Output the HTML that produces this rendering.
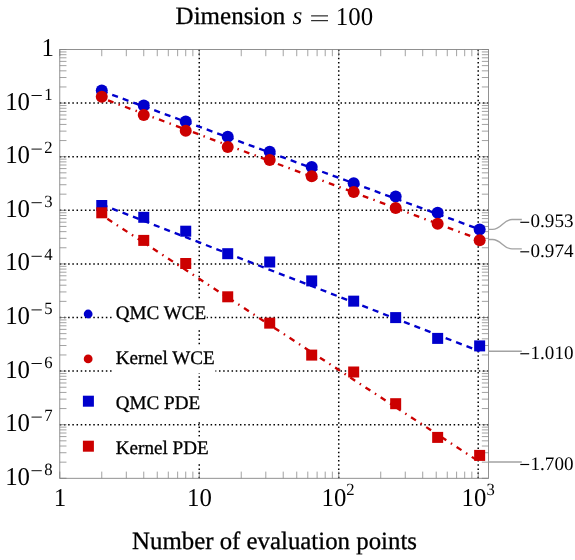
<!DOCTYPE html><html><head><meta charset="utf-8"><title>Dimension s = 100</title>
<style>html,body{margin:0;padding:0;background:#fff;}svg{display:block;will-change:transform;}text{font-family:"Liberation Serif",serif;fill:#000;text-rendering:geometricPrecision;}.b{stroke:#000;stroke-width:0.3px;}</style></head><body>
<svg width="575" height="560" viewBox="0 0 575 560">
<rect width="575" height="560" fill="#fff"/>
<g stroke="#000" stroke-width="1.5" stroke-dasharray="1.5 2.69" fill="none"><line x1="59.77" y1="103.10" x2="488.55" y2="103.10"/><line x1="59.77" y1="156.70" x2="488.55" y2="156.70"/><line x1="59.77" y1="210.30" x2="488.55" y2="210.30"/><line x1="59.77" y1="263.90" x2="488.55" y2="263.90"/><line x1="59.77" y1="317.50" x2="488.55" y2="317.50"/><line x1="59.77" y1="371.10" x2="488.55" y2="371.10"/><line x1="59.77" y1="424.70" x2="488.55" y2="424.70"/><line x1="199.25" y1="478.30" x2="199.25" y2="49.50"/><line x1="338.73" y1="478.30" x2="338.73" y2="49.50"/><line x1="478.21" y1="478.30" x2="478.21" y2="49.50"/></g>
<path d="M101.76 478.30v-6.7M101.76 49.50v6.7M126.32 478.30v-6.7M126.32 49.50v6.7M143.75 478.30v-6.7M143.75 49.50v6.7M157.26 478.30v-6.7M157.26 49.50v6.7M168.31 478.30v-6.7M168.31 49.50v6.7M177.64 478.30v-6.7M177.64 49.50v6.7M185.73 478.30v-6.7M185.73 49.50v6.7M192.87 478.30v-6.7M192.87 49.50v6.7M241.24 478.30v-6.7M241.24 49.50v6.7M265.80 478.30v-6.7M265.80 49.50v6.7M283.23 478.30v-6.7M283.23 49.50v6.7M296.74 478.30v-6.7M296.74 49.50v6.7M307.79 478.30v-6.7M307.79 49.50v6.7M317.12 478.30v-6.7M317.12 49.50v6.7M325.21 478.30v-6.7M325.21 49.50v6.7M332.35 478.30v-6.7M332.35 49.50v6.7M380.72 478.30v-6.7M380.72 49.50v6.7M405.28 478.30v-6.7M405.28 49.50v6.7M422.71 478.30v-6.7M422.71 49.50v6.7M436.22 478.30v-6.7M436.22 49.50v6.7M447.27 478.30v-6.7M447.27 49.50v6.7M456.60 478.30v-6.7M456.60 49.50v6.7M464.69 478.30v-6.7M464.69 49.50v6.7M471.83 478.30v-6.7M471.83 49.50v6.7M59.77 86.96h6.7M488.55 86.96h-6.7M59.77 77.53h6.7M488.55 77.53h-6.7M59.77 70.83h6.7M488.55 70.83h-6.7M59.77 65.64h6.7M488.55 65.64h-6.7M59.77 61.39h6.7M488.55 61.39h-6.7M59.77 57.80h6.7M488.55 57.80h-6.7M59.77 54.69h6.7M488.55 54.69h-6.7M59.77 51.95h6.7M488.55 51.95h-6.7M59.77 140.56h6.7M488.55 140.56h-6.7M59.77 131.13h6.7M488.55 131.13h-6.7M59.77 124.43h6.7M488.55 124.43h-6.7M59.77 119.24h6.7M488.55 119.24h-6.7M59.77 114.99h6.7M488.55 114.99h-6.7M59.77 111.40h6.7M488.55 111.40h-6.7M59.77 108.29h6.7M488.55 108.29h-6.7M59.77 105.55h6.7M488.55 105.55h-6.7M59.77 194.16h6.7M488.55 194.16h-6.7M59.77 184.73h6.7M488.55 184.73h-6.7M59.77 178.03h6.7M488.55 178.03h-6.7M59.77 172.84h6.7M488.55 172.84h-6.7M59.77 168.59h6.7M488.55 168.59h-6.7M59.77 165.00h6.7M488.55 165.00h-6.7M59.77 161.89h6.7M488.55 161.89h-6.7M59.77 159.15h6.7M488.55 159.15h-6.7M59.77 247.76h6.7M488.55 247.76h-6.7M59.77 238.33h6.7M488.55 238.33h-6.7M59.77 231.63h6.7M488.55 231.63h-6.7M59.77 226.44h6.7M488.55 226.44h-6.7M59.77 222.19h6.7M488.55 222.19h-6.7M59.77 218.60h6.7M488.55 218.60h-6.7M59.77 215.49h6.7M488.55 215.49h-6.7M59.77 212.75h6.7M488.55 212.75h-6.7M59.77 301.36h6.7M488.55 301.36h-6.7M59.77 291.93h6.7M488.55 291.93h-6.7M59.77 285.23h6.7M488.55 285.23h-6.7M59.77 280.04h6.7M488.55 280.04h-6.7M59.77 275.79h6.7M488.55 275.79h-6.7M59.77 272.20h6.7M488.55 272.20h-6.7M59.77 269.09h6.7M488.55 269.09h-6.7M59.77 266.35h6.7M488.55 266.35h-6.7M59.77 354.96h6.7M488.55 354.96h-6.7M59.77 345.53h6.7M488.55 345.53h-6.7M59.77 338.83h6.7M488.55 338.83h-6.7M59.77 333.64h6.7M488.55 333.64h-6.7M59.77 329.39h6.7M488.55 329.39h-6.7M59.77 325.80h6.7M488.55 325.80h-6.7M59.77 322.69h6.7M488.55 322.69h-6.7M59.77 319.95h6.7M488.55 319.95h-6.7M59.77 408.56h6.7M488.55 408.56h-6.7M59.77 399.13h6.7M488.55 399.13h-6.7M59.77 392.43h6.7M488.55 392.43h-6.7M59.77 387.24h6.7M488.55 387.24h-6.7M59.77 382.99h6.7M488.55 382.99h-6.7M59.77 379.40h6.7M488.55 379.40h-6.7M59.77 376.29h6.7M488.55 376.29h-6.7M59.77 373.55h6.7M488.55 373.55h-6.7M59.77 462.16h6.7M488.55 462.16h-6.7M59.77 452.73h6.7M488.55 452.73h-6.7M59.77 446.03h6.7M488.55 446.03h-6.7M59.77 440.84h6.7M488.55 440.84h-6.7M59.77 436.59h6.7M488.55 436.59h-6.7M59.77 433.00h6.7M488.55 433.00h-6.7M59.77 429.89h6.7M488.55 429.89h-6.7M59.77 427.15h6.7M488.55 427.15h-6.7" stroke="#8a8a8a" stroke-width="0.8" fill="none"/>
<path d="M59.77 478.30v-6.7M59.77 49.50v6.7M199.25 478.30v-6.7M199.25 49.50v6.7M338.73 478.30v-6.7M338.73 49.50v6.7M478.21 478.30v-6.7M478.21 49.50v6.7M59.77 49.50h6.7M488.55 49.50h-6.7M59.77 103.10h6.7M488.55 103.10h-6.7M59.77 156.70h6.7M488.55 156.70h-6.7M59.77 210.30h6.7M488.55 210.30h-6.7M59.77 263.90h6.7M488.55 263.90h-6.7M59.77 317.50h6.7M488.55 317.50h-6.7M59.77 371.10h6.7M488.55 371.10h-6.7M59.77 424.70h6.7M488.55 424.70h-6.7M59.77 478.30h6.7M488.55 478.30h-6.7" stroke="#707070" stroke-width="0.8" fill="none"/>
<rect x="59.77" y="49.50" width="428.78" height="428.80" fill="none" stroke="#858585" stroke-width="0.9"/>
<line x1="101.76" y1="91.01" x2="479.65" y2="229.40" stroke="#0000cc" stroke-width="2.35" stroke-dasharray="6.1 5.08" stroke-dashoffset="0.05" fill="none"/>
<g fill="#0000cc"><circle cx="101.76" cy="90.60" r="6"/><circle cx="143.75" cy="105.60" r="6"/><circle cx="185.73" cy="121.50" r="6"/><circle cx="227.72" cy="136.80" r="6"/><circle cx="269.71" cy="151.70" r="6"/><circle cx="311.70" cy="167.00" r="6"/><circle cx="353.68" cy="183.20" r="6"/><circle cx="395.67" cy="196.60" r="6"/><circle cx="437.66" cy="212.70" r="6"/><circle cx="479.65" cy="229.60" r="6"/></g>
<line x1="101.76" y1="98.06" x2="479.65" y2="239.50" stroke="#cc0000" stroke-width="2.35" stroke-dasharray="5.8 5.42 1.5 5.42" stroke-dashoffset="11.48" fill="none"/>
<g fill="#cc0000"><circle cx="101.76" cy="96.70" r="6"/><circle cx="143.75" cy="115.10" r="6"/><circle cx="185.73" cy="130.70" r="6"/><circle cx="227.72" cy="147.10" r="6"/><circle cx="269.71" cy="160.10" r="6"/><circle cx="311.70" cy="176.20" r="6"/><circle cx="353.68" cy="192.10" r="6"/><circle cx="395.67" cy="207.90" r="6"/><circle cx="437.66" cy="223.80" r="6"/><circle cx="479.65" cy="240.30" r="6"/></g>
<line x1="101.76" y1="204.58" x2="479.65" y2="351.25" stroke="#0000cc" stroke-width="2.35" stroke-dasharray="6.1 5.08" stroke-dashoffset="0.05" fill="none"/>
<g fill="#0000cc"><rect x="96.26" y="200.00" width="11.0" height="11.0"/><rect x="138.25" y="211.80" width="11.0" height="11.0"/><rect x="180.23" y="225.70" width="11.0" height="11.0"/><rect x="222.22" y="248.20" width="11.0" height="11.0"/><rect x="264.21" y="256.50" width="11.0" height="11.0"/><rect x="306.20" y="275.40" width="11.0" height="11.0"/><rect x="348.18" y="295.65" width="11.0" height="11.0"/><rect x="390.17" y="312.10" width="11.0" height="11.0"/><rect x="432.16" y="332.90" width="11.0" height="11.0"/><rect x="474.15" y="340.40" width="11.0" height="11.0"/></g>
<line x1="101.76" y1="215.13" x2="479.65" y2="462.00" stroke="#cc0000" stroke-width="2.35" stroke-dasharray="5.8 5.42 1.5 5.42" stroke-dashoffset="11.48" fill="none"/>
<g fill="#cc0000"><rect x="96.26" y="207.30" width="11.0" height="11.0"/><rect x="138.25" y="234.90" width="11.0" height="11.0"/><rect x="180.23" y="258.00" width="11.0" height="11.0"/><rect x="222.22" y="291.30" width="11.0" height="11.0"/><rect x="264.21" y="317.65" width="11.0" height="11.0"/><rect x="306.20" y="349.60" width="11.0" height="11.0"/><rect x="348.18" y="366.50" width="11.0" height="11.0"/><rect x="390.17" y="398.20" width="11.0" height="11.0"/><rect x="432.16" y="431.90" width="11.0" height="11.0"/><rect x="474.15" y="449.90" width="11.0" height="11.0"/></g>
<rect x="112.3" y="300.0" width="94.30" height="30.00" fill="#fff"/>
<rect x="112.3" y="346.8" width="103.10" height="26.20" fill="#fff"/>
<rect x="112.3" y="390.0" width="90.10" height="30.00" fill="#fff"/>
<rect x="112.3" y="436.8" width="98.10" height="26.40" fill="#fff"/>
<circle cx="88.15" cy="314.0" r="4.4" fill="#0000cc"/>
<circle cx="88.15" cy="358.9" r="4.4" fill="#cc0000"/>
<rect x="82.9" y="395.7" width="11" height="11" fill="#0000cc"/>
<rect x="82.9" y="440.7" width="11" height="11" fill="#cc0000"/>
<text class="b" x="115.8" y="319.00" font-size="19.1">QMC WCE</text>
<text class="b" x="115.8" y="364.30" font-size="19.1">Kernel WCE</text>
<text class="b" x="115.8" y="409.00" font-size="19.1">QMC PDE</text>
<text class="b" x="115.8" y="454.30" font-size="19.1">Kernel PDE</text>
<g stroke="#a2a2a2" stroke-width="1.35" fill="none">
<path d="M488.55 229.4H492.5C501.5 229.4 503 219.5 512 219.5H521.8"/>
<path d="M488.55 239.5H492.5C501.5 239.5 503 248.9 512 248.9H521.8"/>
<path d="M488.55 351.25H521.8"/>
<path d="M488.55 462.0H521.8"/>
</g>
<path d="M520.3 222.30H529.2" stroke="#000" stroke-width="1.15"/>
<text x="530.55" y="227.3" font-size="19.1">0.953</text>
<path d="M520.3 251.80H529.2" stroke="#000" stroke-width="1.15"/>
<text x="530.55" y="256.8" font-size="19.1">0.974</text>
<path d="M520.3 353.75H529.2" stroke="#000" stroke-width="1.15"/>
<text x="530.55" y="358.75" font-size="19.1">1.010</text>
<path d="M520.3 464.50H529.2" stroke="#000" stroke-width="1.15"/>
<text x="530.55" y="469.5" font-size="19.1">1.700</text>
<text transform="translate(5.20 109.60) scale(0.97 1)" font-size="25.6" text-anchor="start">10</text>
<path d="M31.5 95.50H41.8" stroke="#000" stroke-width="0.95"/>
<text transform="translate(48.30 99.60) scale(0.97 1)" font-size="17.2" text-anchor="middle">1</text>
<text transform="translate(5.20 163.20) scale(0.97 1)" font-size="25.6" text-anchor="start">10</text>
<path d="M31.5 149.10H41.8" stroke="#000" stroke-width="0.95"/>
<text transform="translate(48.30 153.20) scale(0.97 1)" font-size="17.2" text-anchor="middle">2</text>
<text transform="translate(5.20 216.80) scale(0.97 1)" font-size="25.6" text-anchor="start">10</text>
<path d="M31.5 202.70H41.8" stroke="#000" stroke-width="0.95"/>
<text transform="translate(48.30 206.80) scale(0.97 1)" font-size="17.2" text-anchor="middle">3</text>
<text transform="translate(5.20 270.40) scale(0.97 1)" font-size="25.6" text-anchor="start">10</text>
<path d="M31.5 256.30H41.8" stroke="#000" stroke-width="0.95"/>
<text transform="translate(48.30 260.40) scale(0.97 1)" font-size="17.2" text-anchor="middle">4</text>
<text transform="translate(5.20 324.00) scale(0.97 1)" font-size="25.6" text-anchor="start">10</text>
<path d="M31.5 309.90H41.8" stroke="#000" stroke-width="0.95"/>
<text transform="translate(48.30 314.00) scale(0.97 1)" font-size="17.2" text-anchor="middle">5</text>
<text transform="translate(5.20 377.60) scale(0.97 1)" font-size="25.6" text-anchor="start">10</text>
<path d="M31.5 363.50H41.8" stroke="#000" stroke-width="0.95"/>
<text transform="translate(48.30 367.60) scale(0.97 1)" font-size="17.2" text-anchor="middle">6</text>
<text transform="translate(5.20 431.20) scale(0.97 1)" font-size="25.6" text-anchor="start">10</text>
<path d="M31.5 417.10H41.8" stroke="#000" stroke-width="0.95"/>
<text transform="translate(48.30 421.20) scale(0.97 1)" font-size="17.2" text-anchor="middle">7</text>
<text transform="translate(5.20 484.80) scale(0.97 1)" font-size="25.6" text-anchor="start">10</text>
<path d="M31.5 470.70H41.8" stroke="#000" stroke-width="0.95"/>
<text transform="translate(48.30 474.80) scale(0.97 1)" font-size="17.2" text-anchor="middle">8</text>
<text transform="translate(47.70 56.10) scale(0.97 1)" font-size="25.6" text-anchor="middle">1</text>
<text transform="translate(59.90 505.60) scale(0.97 1)" font-size="25.6" text-anchor="middle">1</text>
<text transform="translate(199.45 505.70) scale(0.97 1)" font-size="25.6" text-anchor="middle">10</text>
<text transform="translate(334.00 505.80) scale(0.97 1)" font-size="25.6" text-anchor="middle">10</text>
<text transform="translate(350.40 495.40) scale(0.97 1)" font-size="17.2" text-anchor="middle">2</text>
<text transform="translate(473.90 505.80) scale(0.97 1)" font-size="25.6" text-anchor="middle">10</text>
<text transform="translate(490.60 495.40) scale(0.97 1)" font-size="17.2" text-anchor="middle">3</text>
<text class="b" x="274.5" y="549.2" font-size="24.85" text-anchor="middle">Number of evaluation points</text>
<text class="b" x="175.6" y="24.2" font-size="25">Dimension</text>
<text x="292.4" y="24.3" font-size="25.2" font-style="italic">s</text>
<path d="M311.1 15.9H328M311.1 20.7H328" stroke="#000" stroke-width="1.0"/>
<text transform="translate(335.80 24.50) scale(0.97 1)" font-size="25.6" text-anchor="start">100</text>
</svg></body></html>
